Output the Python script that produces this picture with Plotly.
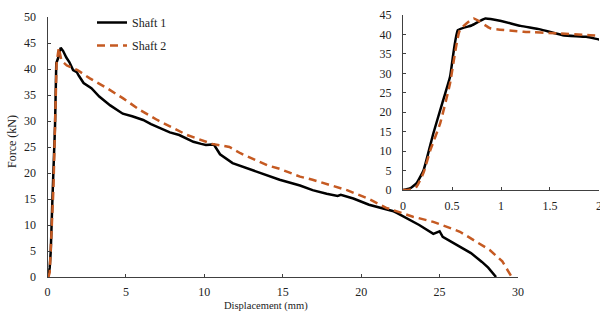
import plotly.graph_objects as go

# Shaft 1 (solid black): displacement (mm) / force (kN)
shaft1_x = [0, 0.07, 0.14, 0.21, 0.31, 0.41, 0.48, 0.56, 0.7, 0.84, 0.99, 1.2, 1.4, 1.63, 1.87, 2.0,
            2.3, 2.8, 3.3, 4.0, 4.8, 5.4, 6.1, 6.6, 7.2, 7.8, 8.4, 9.3, 9.8, 10.1, 10.6, 10.8,
            11.0, 11.8, 12.8, 14.0, 14.8, 16.1, 16.9, 17.8, 18.5, 18.7, 19.5, 20.5, 21.4, 22.0,
            22.3, 23.0, 23.7, 24.6, 24.9, 25.0, 25.2, 26.3, 27.0, 27.7, 28.1, 28.6]
shaft1_y = [0, 0.4, 1.8, 5.1, 14.6, 23.1, 29.1, 41.1, 42.3, 44.1, 43.5, 42.2, 41.3, 39.8, 39.4, 38.7,
            37.3, 36.3, 34.7, 33.0, 31.4, 30.9, 30.2, 29.4, 28.6, 27.8, 27.3, 26.0, 25.6, 25.4, 25.5, 24.6,
            23.6, 21.9, 20.8, 19.6, 18.7, 17.6, 16.7, 16.0, 15.6, 15.8, 15.1, 13.9, 13.2, 12.7,
            12.3, 11.2, 10.0, 8.3, 8.7, 8.8, 7.7, 5.8, 4.6, 2.9, 1.8, 0]

# Shaft 2 (dashed orange)
shaft2_x = [0, 0.07, 0.14, 0.21, 0.28, 0.38, 0.48, 0.58, 0.72, 0.89, 1.23, 1.57, 1.91,
            2.7, 3.8, 4.8, 5.9, 7.0, 8.0, 8.9, 10.5, 11.2, 11.6, 12.3, 14.0, 14.8, 16.1,
            16.9, 19.1, 20.5, 21.6, 23.3, 24.6, 26.3, 28.2, 29.0, 29.6]
shaft2_y = [0, 0.1, 0.9, 4.5, 10.3, 17.2, 27.4, 41.1, 44.1, 41.6, 40.7, 40.3, 39.8,
            38.2, 36.3, 34.4, 32.1, 30.2, 28.6, 27.3, 25.6, 25.3, 25.0, 23.8, 21.5, 20.8, 19.3,
            18.7, 16.7, 15.0, 13.3, 11.6, 10.6, 8.7, 5.2, 3.0, 0]

main_x_ticks = [0, 5, 10, 15, 20, 25, 30]
main_y_ticks = [0, 5, 10, 15, 20, 25, 30, 35, 40, 45, 50]
inset_x_ticks = [0, 0.5, 1, 1.5, 2]
inset_y_ticks = [0, 5, 10, 15, 20, 25, 30, 35, 40, 45]

FONT = "Times New Roman, Liberation Serif, DejaVu Serif, serif"
BLACK = "#000000"
ORANGE = "#C55A22"
AXC = "#404040"
TXT = "#222222"

fig = go.Figure()
fig.add_trace(go.Scatter(x=shaft1_x, y=shaft1_y, mode="lines", name="Shaft 1",
                         line=dict(color=BLACK, width=2.5), legendgroup="a",
                         xaxis="x", yaxis="y"))
fig.add_trace(go.Scatter(x=shaft2_x, y=shaft2_y, mode="lines", name="Shaft 2",
                         line=dict(color=ORANGE, width=2.5, dash="8px,5px"), legendgroup="b",
                         xaxis="x", yaxis="y"))
fig.add_trace(go.Scatter(x=shaft1_x, y=shaft1_y, mode="lines", showlegend=False,
                         line=dict(color=BLACK, width=2.5, shape="spline", smoothing=0.4),
                         xaxis="x2", yaxis="y2"))
fig.add_trace(go.Scatter(x=shaft2_x, y=shaft2_y, mode="lines", showlegend=False,
                         line=dict(color=ORANGE, width=2.5, dash="8px,5px", shape="spline", smoothing=0.4),
                         xaxis="x2", yaxis="y2"))

ax_common = dict(showgrid=False, zeroline=False, showline=True, linecolor=AXC, linewidth=1,
                 ticks="inside", ticklen=3, tickcolor=AXC, tickwidth=1, automargin=False,
                 ticklabeloverflow="allow",
                 tickfont=dict(family=FONT, size=12, color=TXT))

fig.update_layout(
    width=600, height=312,
    margin=dict(l=0, r=0, t=0, b=0, autoexpand=False),
    paper_bgcolor="white", plot_bgcolor="rgba(0,0,0,0)",
    font=dict(family=FONT, size=12, color=TXT),
    xaxis=dict(domain=[47.5/600, 518/600], range=[0, 30], tickvals=main_x_ticks,
               anchor="y", ticklabelstandoff=4, **ax_common),
    yaxis=dict(domain=[1-277/312, 1-17/312], range=[0, 50], tickvals=main_y_ticks,
               anchor="x", ticklabelstandoff=8, **ax_common),
    xaxis2=dict(domain=[403/600, 599/600], range=[0, 2.0001], tickvals=inset_x_ticks,
                anchor="y2", ticklabelstandoff=5, **ax_common),
    yaxis2=dict(domain=[1-190/312, 1-15/312], range=[0, 45], tickvals=inset_y_ticks,
                anchor="x2", ticklabelstandoff=8, **ax_common),
    legend=dict(x=92/600, y=1-8/312, xanchor="left", yanchor="top",
                font=dict(family=FONT, size=12, color=TXT),
                bgcolor="rgba(0,0,0,0)", tracegroupgap=4),
    annotations=[
        dict(text="Displacement (mm)", x=266/600, y=1-306/312, xref="paper", yref="paper",
             showarrow=False, xanchor="center", yanchor="middle",
             font=dict(family=FONT, size=10.5, color=TXT)),
        dict(text="Force (kN)", x=12/600, y=1-142/312, xref="paper", yref="paper",
             showarrow=False, xanchor="center", yanchor="middle", textangle=-90,
             font=dict(family=FONT, size=12, color=TXT)),
    ],
)

fig.write_html("out.html", config={"displayModeBar": False},
               post_script="document.body.style.margin='0';document.body.style.overflow='hidden';")
